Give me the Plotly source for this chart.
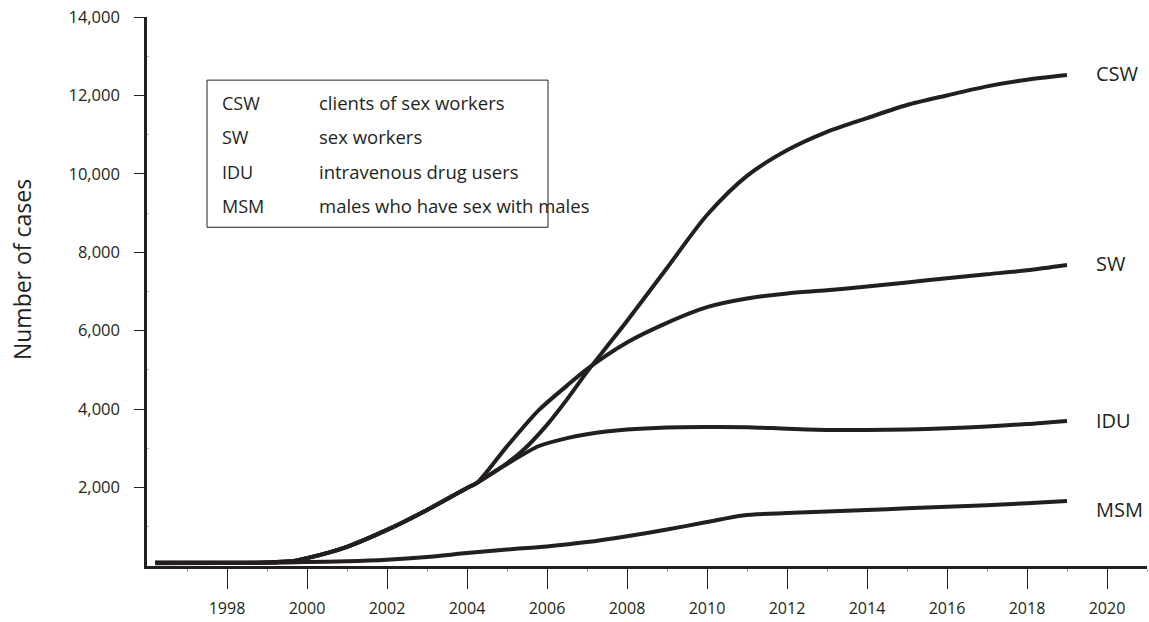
import plotly.graph_objects as go

# ---- data ----
csw_years = [1996.2, 1998, 1999, 1999.6, 2000, 2001, 2002, 2003, 2004, 2004.25, 2004.6, 2005, 2005.4, 2006, 2006.5, 2007, 2007.5, 2008, 2009, 2010, 2011, 2012, 2013, 2014, 2015, 2016, 2017, 2018, 2019]
csw_vals  = [80, 80, 90, 120, 200, 490, 920, 1430, 1990, 2120, 2350, 2620, 2950, 3600, 4250, 4950, 5600, 6250, 7600, 8950, 9950, 10600, 11070, 11420, 11755, 12000, 12230, 12400, 12520]

sw_years = [1996.2, 1998, 1999, 1999.6, 2000, 2001, 2002, 2003, 2004, 2004.25, 2005, 2005.8, 2006.5, 2007, 2008, 2009, 2010, 2011, 2012, 2013, 2014, 2015, 2016, 2017, 2018, 2019]
sw_vals  = [80, 80, 90, 120, 200, 490, 920, 1430, 1990, 2120, 3050, 3980, 4600, 5020, 5700, 6200, 6600, 6820, 6950, 7030, 7130, 7230, 7340, 7440, 7540, 7675]

idu_years = [1996.2, 1998, 1999, 1999.6, 2000, 2001, 2002, 2003, 2004, 2004.25, 2005, 2005.8, 2006.5, 2007, 2008, 2009, 2010, 2011, 2012, 2013, 2014, 2015, 2016, 2017, 2018, 2019]
idu_vals  = [80, 80, 90, 120, 200, 490, 920, 1430, 1990, 2120, 2600, 3060, 3260, 3360, 3480, 3535, 3545, 3540, 3500, 3470, 3470, 3480, 3510, 3560, 3620, 3700]

msm_years = [1996.2, 1998, 1999, 2000, 2001, 2002, 2003, 2004, 2005, 2006, 2007, 2008, 2009, 2010, 2010.9, 2012, 2013, 2014, 2015, 2016, 2017, 2018, 2019]
msm_vals  = [70, 75, 85, 100, 120, 160, 230, 330, 420, 500, 610, 760, 930, 1120, 1290, 1350, 1390, 1430, 1470, 1510, 1550, 1600, 1660]

series_names = ["CSW", "SW", "IDU", "MSM"]
label_y = [12570, 7720, 3720, 1430]
legend_abbr = ["CSW", "SW", "IDU", "MSM"]
legend_desc = ["clients of sex workers", "sex workers", "intravenous drug users", "males who have sex with males"]
y_title = "Number of cases"

x_ticks = [1998, 2000, 2002, 2004, 2006, 2008, 2010, 2012, 2014, 2016, 2018, 2020]
y_ticks = [2000, 4000, 6000, 8000, 10000, 12000, 14000]
y_ticktext = [f"{v:,}" for v in y_ticks]

INK = "#231f20"
FONT = "Open Sans, DejaVu Sans, sans-serif"

fig = go.Figure()
for name, xs, ys in zip(series_names,
                        [csw_years, sw_years, idu_years, msm_years],
                        [csw_vals, sw_vals, idu_vals, msm_vals]):
    fig.add_trace(go.Scatter(x=xs, y=ys, mode="lines", name=name,
                             line=dict(color=INK, width=4, shape="spline", smoothing=0.8),
                             showlegend=False, hoverinfo="skip"))

# end-of-line labels
for name, ly in zip(series_names, label_y):
    fig.add_annotation(x=2019.67, y=ly, text=name, showarrow=False, xanchor="left", yanchor="middle",
                       font=dict(family=FONT, size=20, color=INK))

# legend box
fig.add_shape(type="rect", xref="paper", yref="paper", x0=0.06, x1=0.401, y0=0.617, y1=0.885,
              line=dict(color=INK, width=1), fillcolor="rgba(0,0,0,0)")
row_y = [0.844, 0.782, 0.718, 0.656]
for ab, de, ry in zip(legend_abbr, legend_desc, row_y):
    fig.add_annotation(xref="paper", yref="paper", x=0.073, y=ry, text=ab, showarrow=False,
                       xanchor="left", yanchor="middle", font=dict(family=FONT, size=18, color=INK))
    fig.add_annotation(xref="paper", yref="paper", x=0.170, y=ry, text=de, showarrow=False,
                       xanchor="left", yanchor="middle", font=dict(family=FONT, size=18.5, color=INK))

# y-axis title as a rotated annotation
fig.add_annotation(xref="paper", yref="paper", x=-0.125, y=0.539, text=y_title, textangle=-90,
                   showarrow=False, xanchor="center", yanchor="middle",
                   font=dict(family=FONT, size=23, color=INK))

fig.update_xaxes(range=[1996, 2021], tickvals=x_ticks, ticktext=[str(t) for t in x_ticks],
                 showline=True, linecolor=INK, linewidth=2.5, ticks="outside", ticklen=20,
                 tickwidth=1, tickcolor=INK, showgrid=False, zeroline=False,
                 ticklabelstandoff=6, ticklabeloverflow="allow", automargin=False,
                 tickfont=dict(family=FONT, size=16, color=INK),
                 minor=dict(tickvals=list(range(1997, 2022, 2)), ticks="outside", ticklen=3,
                            tickcolor="#999999", tickwidth=1))
fig.update_yaxes(range=[0, 14000], tickvals=y_ticks, ticktext=y_ticktext,
                 showline=True, linecolor=INK, linewidth=2.5, ticks="outside", ticklen=10,
                 tickwidth=1, tickcolor=INK, showgrid=False, zeroline=False,
                 ticklabelstandoff=11, ticklabeloverflow="allow", automargin=False,
                 tickfont=dict(family=FONT, size=16.5, color=INK),
                 minor=dict(tickvals=list(range(1000, 14000, 2000)), ticks="inside", ticklen=2,
                            tickcolor="#bbbbbb", tickwidth=1))

fig.update_layout(width=1149, height=622, margin=dict(l=147, r=2, t=17, b=56, autoexpand=False),
                  plot_bgcolor="white", paper_bgcolor="white",
                  font=dict(family=FONT, color=INK))

# remove the default 8px page margin so the figure fills the window exactly
fig.write_html("out.html", config={"displayModeBar": False},
               post_script="document.body.style.margin='0';document.body.style.overflow='hidden';")
